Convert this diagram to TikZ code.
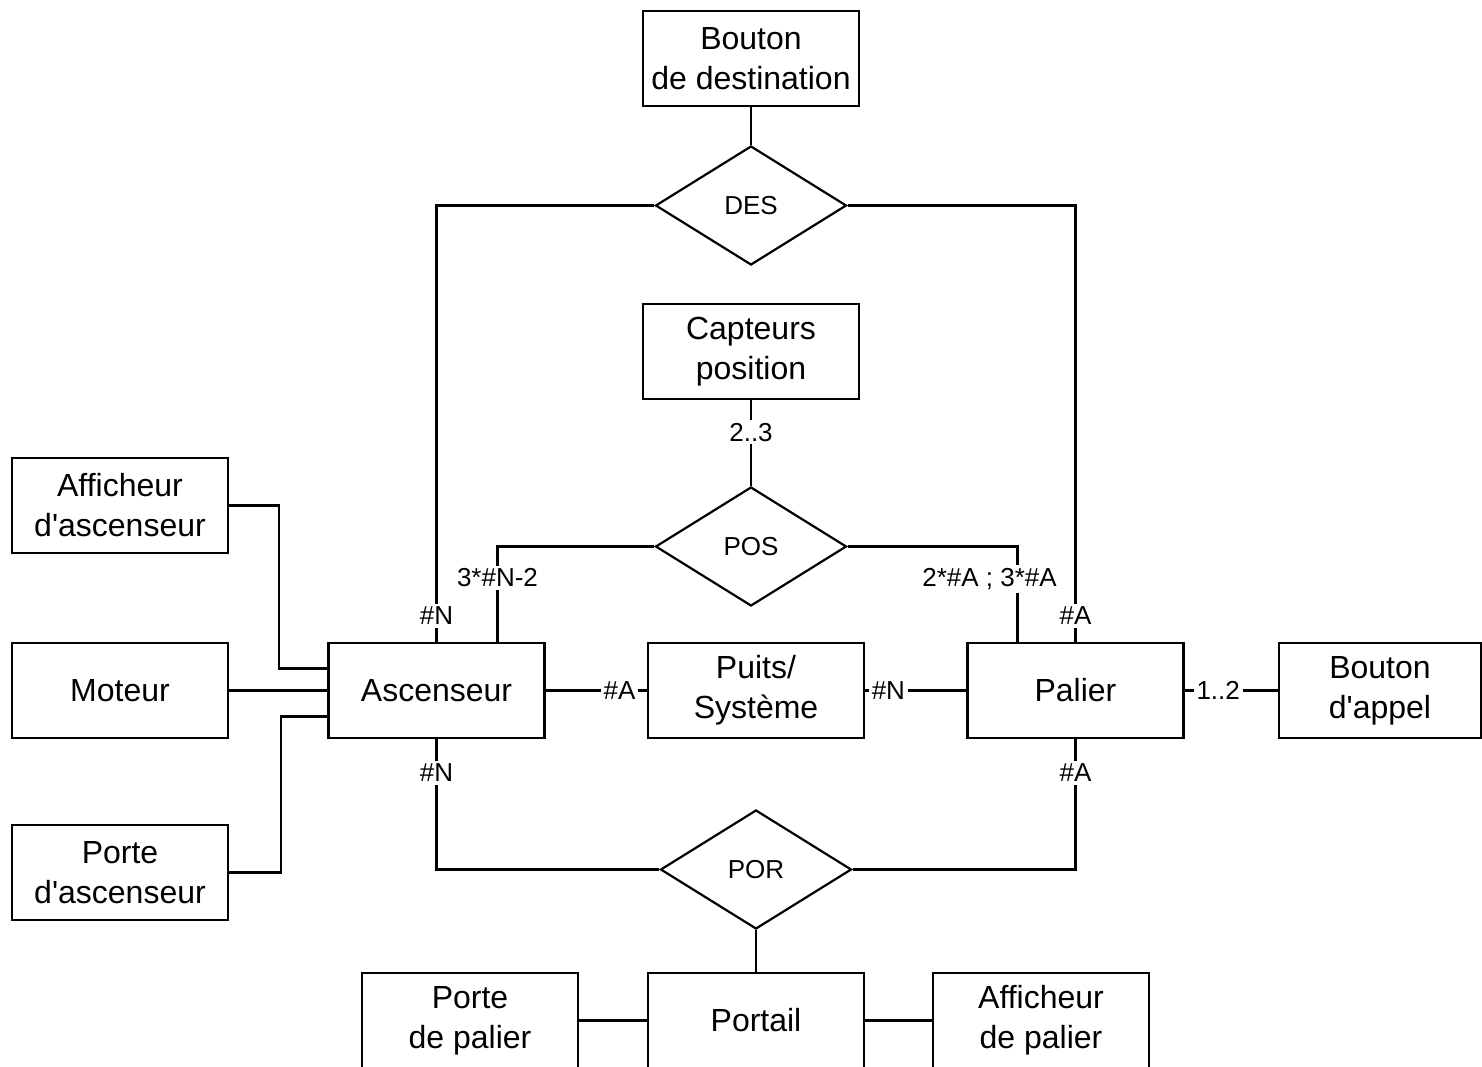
\documentclass[tikz,border=0pt]{standalone}
\usepackage{fontspec}
\setmainfont{Liberation Sans}[Ligatures=TeXOff]
\usetikzlibrary{shapes.geometric}
\begin{document}
\begin{tikzpicture}[x=1pt,y=-1pt,line width=2.2pt,
  entity/.style={draw, rectangle, minimum width=216pt, minimum height=95pt,
    inner sep=0pt, align=center, font=\fontsize{32}{40}\selectfont},
  relation/.style={draw, diamond, minimum width=191pt, minimum height=119pt,
    inner sep=0pt, font=\fontsize{26}{30}\selectfont},
  card/.style={fill=white, inner sep=3pt, font=\fontsize{26}{30}\selectfont},
]
\clip (0,0) rectangle (1482,1067);

% entities
\node[entity] (btndest) at (751,58.5)  {Bouton\\de destination};
\node[entity] (capt)    at (751,351.5) {Capteurs\\position};
\node[entity] (affasc)  at (120,505.5) {Afficheur\\d'ascenseur};
\node[entity] (moteur)  at (120,690.5) {Moteur};
\node[entity] (porasc)  at (120,872.5) {Porte\\d'ascenseur};
\node[entity] (asc)     at (436.5,690.5) {Ascenseur};
\node[entity] (puits)   at (756,690.5) {Puits/\\Système};
\node[entity] (pal)     at (1075.5,690.5) {Palier};
\node[entity, minimum width=202pt] (btnapp) at (1380,690.5) {Bouton\\d'appel};
\node[entity] (portail) at (756,1020.5) {Portail};
\node[entity] (porpal)  at (470,1020.5) {Porte\\de palier};
\node[entity] (affpal)  at (1041,1020.5) {Afficheur\\de palier};

% relations
\node[relation] (des) at (751,205.5) {DES};
\node[relation] (pos) at (751,546.5) {POS};
\node[relation] (por) at (756,869.5) {POR};

% DES
\draw (btndest.south) -- (des.north);
\draw (des.west) -| node[card, pos=0.97] {\#N} (asc.north);
\draw (des.east) -| node[card, pos=0.97] {\#A} (pal.north);

% POS
\draw (pos.north) -- node[card, pos=0.625] {2..3} (capt.south);
\draw (pos.west) -| node[card, pos=0.665] {3*\#N-2} ([xshift=61pt]asc.north);
\draw (pos.east) -| node[card, pos=0.67, xshift=-28pt] {2*\#A ; 3*\#A} ([xshift=-58pt]pal.north);

% horizontal chain
\draw (asc.east) -- node[card, pos=0.73] {\#A} (puits.west);
\draw (puits.east) -- node[card, pos=0.23] {\#N} (pal.west);
\draw (pal.east) -- node[card, pos=0.36] {1..2} (btnapp.west);

% parts of the elevator car
\draw (affasc.east) -- ++(50,0) |- ([yshift=22pt]asc.west);
\draw (moteur.east) -- (asc.west);
\draw (porasc.east) -- ++(52,0) |- ([yshift=-26pt]asc.west);

% POR
\draw (asc.south) |- node[card, pos=0.13] {\#N} (por.west);
\draw (pal.south) |- node[card, pos=0.13] {\#A} (por.east);
\draw (por.south) -- (portail.north);
\draw (porpal.east) -- (portail.west);
\draw (portail.east) -- (affpal.west);
\end{tikzpicture}
\end{document}
